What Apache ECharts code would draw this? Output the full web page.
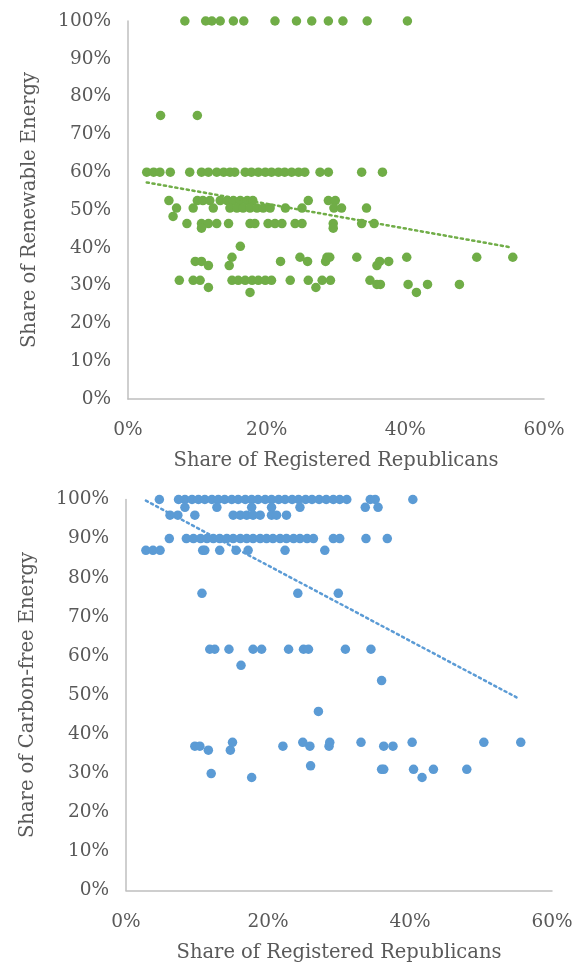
<!DOCTYPE html>
<html>
<head>
<meta charset="utf-8">
<script src="https://cdn.jsdelivr.net/npm/echarts@6/dist/echarts.min.js"></script>
<style>
  html, body { margin: 0; padding: 0; background: #ffffff; }
  #chart { width: 584px; height: 964px; }
</style>
</head>
<body>
<div id="chart"></div>
<script>
// Share of registered Republicans (x, %) vs. energy share (y, %)
const xTicks = [0, 20, 40, 60];
const yTicks = [0, 10, 20, 30, 40, 50, 60, 70, 80, 90, 100];

// Renewable energy share
const renewable = [
  [8.2,100],[11.2,100],[12.1,100],[13.3,100],[15.2,100],[16.7,100],[21.2,100],[24.3,100],[26.5,100],[28.9,100],[31.0,100],[34.5,100],[40.3,100],
  [4.7,75],[10.0,75],
  [2.7,60],[3.7,60],[4.6,60],[6.1,60],[8.9,60],[10.6,60],[11.6,60],[12.8,60],[13.8,60],[14.7,60],[15.4,60],[16.9,60],[17.8,60],[18.8,60],[19.8,60],[20.7,60],[21.7,60],[22.6,60],[23.6,60],[24.6,60],[25.5,60],[27.7,60],[28.9,60],[33.7,60],[36.7,60],
  [5.9,52.5],[10.0,52.5],[10.8,52.5],[11.8,52.5],[13.3,52.5],[14.3,52.5],[15.2,52.5],[16.2,52.5],[17.2,52.5],[18.0,52.5],[26.0,52.5],[28.9,52.5],[29.9,52.5],
  [7.0,50.5],[9.4,50.5],[12.3,50.5],[14.7,50.5],[15.7,50.5],[16.6,50.5],[17.6,50.5],[18.6,50.5],[19.5,50.5],[20.5,50.5],[22.7,50.5],[25.1,50.5],[29.7,50.5],[30.8,50.5],[34.4,50.5],
  [6.5,48.3],
  [8.5,46.4],[10.6,46.4],[11.6,46.4],[12.8,46.4],[14.5,46.4],[17.6,46.4],[18.3,46.4],[20.2,46.4],[21.2,46.4],[22.2,46.4],[24.1,46.4],[25.1,46.4],[29.6,46.4],[33.7,46.4],[35.5,46.4],
  [10.6,45.2],[29.6,45.2],
  [16.2,40.4],
  [9.7,36.4],[10.6,36.4],[22.0,36.4],[25.9,36.4],[28.5,36.4],[36.3,36.4],[37.6,36.4],
  [11.6,35.3],[14.6,35.3],[35.9,35.3],
  [15.0,37.5],[24.8,37.5],[28.7,37.5],[29.1,37.5],[33.0,37.5],[40.2,37.5],[50.3,37.5],[55.5,37.5],
  [7.4,31.4],[9.4,31.4],[10.4,31.4],[15.0,31.4],[15.9,31.4],[16.9,31.4],[17.9,31.4],[18.8,31.4],[19.8,31.4],[20.7,31.4],[23.4,31.4],[26.0,31.4],[28.0,31.4],[29.2,31.4],[34.9,31.4],
  [11.6,29.5],[27.1,29.5],
  [17.6,28.2],[41.6,28.2],
  [35.9,30.3],[36.4,30.3],[40.4,30.3],[43.2,30.3],[47.8,30.3]
];

// Carbon-free energy share
const carbonFree = [
  [4.7,100],[7.4,100],[8.3,100],[9.3,100],[10.2,100],[11.1,100],[12.1,100],[13.0,100],[13.9,100],[14.9,100],[15.8,100],[16.8,100],[17.7,100],[18.6,100],[19.6,100],[20.5,100],[21.5,100],[22.4,100],[23.4,100],[24.3,100],[25.3,100],[26.2,100],[27.2,100],[28.2,100],[29.2,100],[30.1,100],[31.1,100],[34.4,100],[35.1,100],[40.4,100],
  [8.3,98],[12.8,98],[17.7,98],[20.5,98],[24.5,98],[33.7,98],[35.5,98],
  [6.2,96],[7.3,96],[9.7,96],[15.1,96],[16.1,96],[17.0,96],[17.9,96],[18.9,96],[20.5,96],[21.2,96],[22.6,96],
  [6.1,90],[8.5,90],[9.5,90],[10.5,90],[11.4,90],[12.3,90],[13.2,90],[14.2,90],[15.1,90],[16.1,90],[17.0,90],[17.9,90],[18.9,90],[19.8,90],[20.7,90],[21.7,90],[22.6,90],[23.6,90],[24.5,90],[25.5,90],[26.4,90],[29.2,90],[30.1,90],[33.8,90],[36.8,90],
  [2.8,87],[3.8,87],[4.8,87],[10.8,87],[11.1,87],[13.2,87],[15.5,87],[17.2,87],[22.4,87],[28.0,87],
  [10.7,76],[24.2,76],[29.9,76],
  [11.8,61.7],[12.5,61.7],[14.5,61.7],[17.9,61.7],[19.1,61.7],[22.9,61.7],[25.0,61.7],[25.7,61.7],[30.9,61.7],[34.5,61.7],
  [16.2,57.6],[36.0,53.7],[27.1,45.8],
  [9.7,36.9],[10.4,36.9],[22.1,36.9],[25.9,36.9],[28.6,36.9],[36.3,36.9],[37.6,36.9],
  [11.6,35.9],[14.7,35.9],
  [15.0,37.9],[24.9,37.9],[28.7,37.9],[33.1,37.9],[40.3,37.9],[50.4,37.9],[55.6,37.9],
  [26.0,31.9],
  [36.0,31.0],[36.3,31.0],[40.5,31.0],[43.3,31.0],[48.0,31.0],
  [12.0,29.9],
  [17.7,28.9],[41.7,28.9]
];

// Linear trend lines (end points)
const renewableTrend = [[2.7, 57.3], [55.3, 40.1]];
const carbonFreeTrend = [[2.8, 99.7], [55.0, 49.4]];

const GREEN = '#70AD47';
const BLUE = '#5B9BD5';
const TEXT = '#595959';
const AXIS = '#BFBFBF';
const FONT = 'DejaVu Serif';

function xAxis(gridIndex) {
  return {
    type: 'value', gridIndex: gridIndex,
    min: xTicks[0], max: xTicks[xTicks.length - 1], interval: xTicks[1] - xTicks[0],
    name: 'Share of Registered Republicans', nameLocation: 'middle', nameGap: 52,
    nameTextStyle: { color: TEXT, fontFamily: FONT, fontSize: 19.5 },
    axisLine: { show: true, lineStyle: { color: AXIS, width: 1.5 } },
    axisTick: { show: false },
    splitLine: { show: false },
    axisLabel: { color: TEXT, fontFamily: FONT, fontSize: 18.5, margin: 22, formatter: '{value}%' }
  };
}

function yAxis(gridIndex, name) {
  return {
    type: 'value', gridIndex: gridIndex,
    min: yTicks[0], max: yTicks[yTicks.length - 1], interval: yTicks[1] - yTicks[0],
    name: name, nameLocation: 'middle', nameGap: 88,
    nameTextStyle: { color: TEXT, fontFamily: FONT, fontSize: 19.5 },
    axisLine: { show: true, lineStyle: { color: AXIS, width: 1.5 } },
    axisTick: { show: false },
    splitLine: { show: false },
    axisLabel: { color: TEXT, fontFamily: FONT, fontSize: 18.5, margin: 17, formatter: '{value}%' }
  };
}

function scatter(idx, data, color) {
  return {
    type: 'scatter', xAxisIndex: idx, yAxisIndex: idx, data: data,
    symbol: 'circle', symbolSize: 9.5,
    itemStyle: { color: color, opacity: 1 },
    z: 3
  };
}

function trend(idx, data, color) {
  return {
    type: 'line', xAxisIndex: idx, yAxisIndex: idx, data: data,
    symbol: 'none', silent: true,
    lineStyle: { color: color, width: 2.5, type: [2.2, 3.6], cap: 'round' },
    z: 4
  };
}

const chart = echarts.init(document.getElementById('chart'), null, { renderer: 'canvas' });
chart.setOption({
  animation: false,
  backgroundColor: '#ffffff',
  grid: [
    { left: 128, right: 40, top: 21, height: 378 },
    { left: 126, right: 32, top: 499.5, height: 391 }
  ],
  xAxis: [xAxis(0), xAxis(1)],
  yAxis: [yAxis(0, 'Share of Renewable Energy'), yAxis(1, 'Share of Carbon-free Energy')],
  series: [
    scatter(0, renewable, GREEN),
    trend(0, renewableTrend, GREEN),
    scatter(1, carbonFree, BLUE),
    trend(1, carbonFreeTrend, BLUE)
  ]
});
</script>
</body>
</html>
